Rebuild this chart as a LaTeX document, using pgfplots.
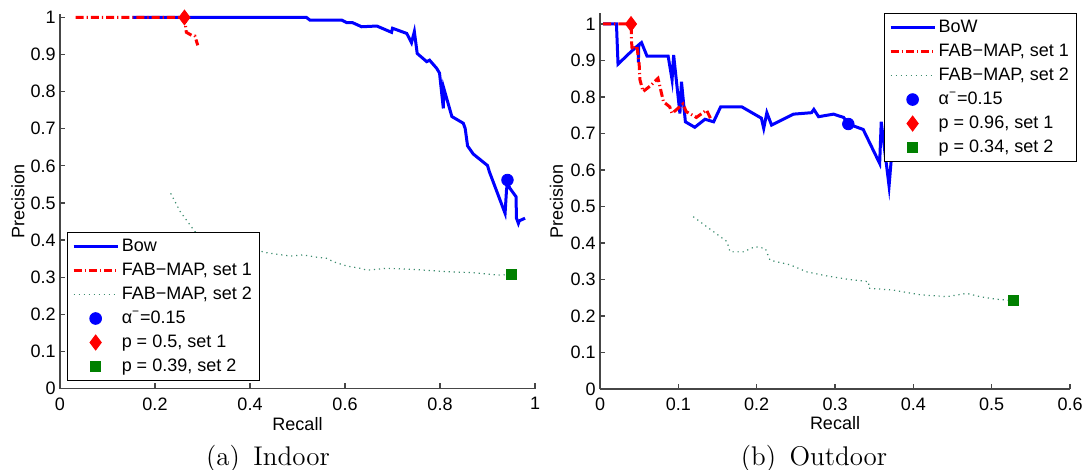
\documentclass[border=0pt]{standalone}
\usepackage{fontspec}
\newfontfamily\arial{Liberation Sans}
\usepackage{pgfplots}
\pgfplotsset{compat=1.18}

\definecolor{mblue}{rgb}{0,0,1}
\definecolor{mred}{rgb}{1,0,0}
\definecolor{mgreen}{rgb}{0,0.5,0}
\definecolor{dotgreen}{RGB}{60,140,110}
\definecolor{axgray}{RGB}{70,70,70}

\newcommand{\lbl}{\arial\fontsize{9}{10.5}\selectfont}

\pgfplotsset{
  prplot/.style={
    scale only axis,
    axis lines=left,
    axis line style={-,axgray,line width=0.6pt},
    tick style={axgray,line width=0.6pt},
    tick align=inside,
    major tick length=2.7pt,
    ymin=0,
    ytick={0,0.1,0.2,0.3,0.4,0.5,0.6,0.7,0.8,0.9,1},
    /pgf/number format/assume math mode=true,
    /pgf/number format/fixed,
    /pgf/number format/precision=1,
    ticklabel style={font=\lbl, text=black},
    xticklabel style={inner sep=0pt, yshift=-4.3pt},
    yticklabel style={inner sep=0pt, xshift=-2pt},
    label style={font=\lbl},
    xlabel={Recall},
    ylabel={Precision},
    legend cell align=left,
    legend style={draw=black, line width=0.5pt, fill=white, font=\lbl,
      inner xsep=2.5pt, inner ysep=1pt, row sep=0pt,
      nodes={inner sep=1.3pt, text height=7pt, text depth=2.4pt}},
    legend image code/.code={\draw[mark repeat=2,mark phase=2,##1]
      plot coordinates {(0pt,0pt)(11pt,0pt)(22pt,0pt)};},
  },
  bowline/.style={mblue, line width=1.5pt, no marks},
  set1line/.style={mred, line width=1.5pt, no marks, dash pattern=on 4pt off 1.5pt on 0.6pt off 1.5pt},
  set2line/.style={dotgreen, line width=0.6pt, no marks, dash pattern=on 0.6pt off 1.9pt},
  bowpt/.style={only marks, mark=*, mark size=2.9pt, mblue, mark options={solid, fill=mblue}},
  set1pt/.style={only marks, mark=diamond*, mark size=3.7pt, mred, mark options={solid, fill=mred}},
  set2pt/.style={only marks, mark=square*, mark size=2.5pt, mgreen, mark options={solid, fill=mgreen}},
}

\begin{document}
\begin{tikzpicture}

% (a) Indoor
\begin{axis}[prplot,
  at={(30pt,-194.25pt)}, anchor=south west,
  width=237.5pt, height=187.36pt,
  xmin=0, xmax=1, ymax=1.01,
  xtick={0,0.2,0.4,0.6,0.8,1},
  xlabel style={at={(axis description cs:0.5,-0.111)}, anchor=base},
  ylabel style={at={(axis description cs:-0.075,0.5)}, anchor=base},
  legend style={at={(0.014,0.02)}, anchor=south west},
]
\addplot[bowline] coordinates {
  (0.153,1)(0.519,1)(0.526,0.993)(0.593,0.993)(0.604,0.986)(0.616,0.986)
  (0.635,0.975)(0.667,0.977)(0.698,0.960)(0.700,0.971)(0.730,0.957)(0.740,0.932)
  (0.746,0.962)(0.752,0.903)(0.772,0.881)(0.778,0.885)(0.793,0.863)(0.799,0.850)
  (0.807,0.755)(0.808,0.809)(0.825,0.733)(0.849,0.715)(0.853,0.701)(0.858,0.654)
  (0.870,0.632)(0.900,0.601)(0.904,0.584)(0.909,0.567)(0.937,0.472)(0.940,0.535)
  (0.942,0.555)(0.947,0.540)(0.960,0.517)(0.961,0.459)(0.965,0.445)(0.967,0.452)
  (0.979,0.459)};
\addlegendentry{Bow}
\addplot[set1line] coordinates {
  (0.033,1)(0.262,1)(0.266,0.96)(0.277,0.952)(0.284,0.95)(0.29,0.925)};
\addlegendentry{FAB−MAP, set 1}
\addplot[set2line] coordinates {
  (0.233,0.526)(0.253,0.477)(0.284,0.423)(0.33,0.40)(0.37,0.385)(0.414,0.373)
  (0.435,0.366)(0.484,0.357)(0.512,0.360)(0.540,0.354)(0.561,0.351)(0.575,0.342)
  (0.604,0.330)(0.632,0.324)(0.646,0.319)(0.688,0.324)(0.744,0.321)(0.814,0.315)
  (0.870,0.312)(0.919,0.306)(0.951,0.307)};
\addlegendentry{FAB−MAP, set 2}
\addplot[bowpt] coordinates {(0.942,0.562)};
\addlegendentry{α\textsuperscript{−}=0.15}
\addplot[set1pt] coordinates {(0.262,1)};
\addlegendentry{p = 0.5, set 1}
\addplot[set2pt] coordinates {(0.951,0.307)};
\addlegendentry{p = 0.39, set 2}
\end{axis}

% (b) Outdoor
\begin{axis}[prplot,
  at={(300pt,-194.5pt)}, anchor=south west,
  width=235pt, height=187.98pt,
  xmin=0, xmax=0.6, ymax=1.03,
  xtick={0,0.1,0.2,0.3,0.4,0.5,0.6},
  xlabel style={at={(axis description cs:0.5,-0.109)}, anchor=base},
  ylabel style={at={(axis description cs:-0.079,0.5)}, anchor=base},
  legend style={at={(1.015,1.0)}, anchor=north east},
]
\addplot[bowline] coordinates {
  (0.004,1)(0.021,1)(0.023,0.89)(0.040,0.925)(0.049,0.942)(0.049,0.895)
  (0.0495,0.942)(0.053,0.949)(0.060,0.912)(0.087,0.912)(0.092,0.847)(0.094,0.915)
  (0.102,0.755)(0.104,0.842)(0.109,0.732)(0.121,0.717)(0.134,0.739)(0.145,0.732)
  (0.154,0.773)(0.181,0.773)(0.206,0.742)(0.209,0.714)(0.213,0.757)(0.219,0.723)
  (0.247,0.753)(0.270,0.757)(0.273,0.766)(0.279,0.746)(0.298,0.753)(0.311,0.744)
  (0.317,0.726)(0.336,0.711)(0.357,0.618)(0.359,0.732)(0.369,0.556)(0.373,0.66)
  (0.38,0.70)};
\addlegendentry{BoW}
\addplot[set1line] coordinates {
  (0.004,1)(0.040,1)(0.040,0.96)(0.041,0.93)(0.047,0.94)(0.050,0.89)(0.051,0.847)
  (0.055,0.815)(0.064,0.83)(0.074,0.851)(0.077,0.824)(0.081,0.787)(0.089,0.773)
  (0.092,0.755)(0.106,0.781)(0.110,0.760)(0.123,0.744)(0.136,0.764)(0.141,0.742)};
\addlegendentry{FAB−MAP, set 1}
\addplot[set2line] coordinates {
  (0.119,0.472)(0.162,0.404)(0.166,0.376)(0.183,0.376)(0.198,0.390)(0.211,0.385)
  (0.217,0.353)(0.243,0.340)(0.264,0.321)(0.289,0.310)(0.315,0.301)(0.343,0.294)
  (0.343,0.276)(0.374,0.271)(0.409,0.258)(0.443,0.253)(0.468,0.262)(0.485,0.253)
  (0.506,0.246)(0.528,0.242)};
\addlegendentry{FAB−MAP, set 2}
\addplot[bowpt] coordinates {(0.317,0.726)};
\addlegendentry{α\textsuperscript{−}=0.15}
\addplot[set1pt] coordinates {(0.0396,1)};
\addlegendentry{p = 0.96, set 1}
\addplot[set2pt] coordinates {(0.528,0.242)};
\addlegendentry{p = 0.34, set 2}
\end{axis}

\node[anchor=base, font=\fontsize{13.5}{15}\selectfont] at (134pt,-232.5pt) {(a)\enspace Indoor};
\node[anchor=base, font=\fontsize{13.5}{15}\selectfont] at (407pt,-232.5pt) {(b)\enspace Outdoor};

\pgfresetboundingbox
\path[use as bounding box] (0pt,0pt) rectangle (542.5pt,-235pt);
\end{tikzpicture}
\end{document}
